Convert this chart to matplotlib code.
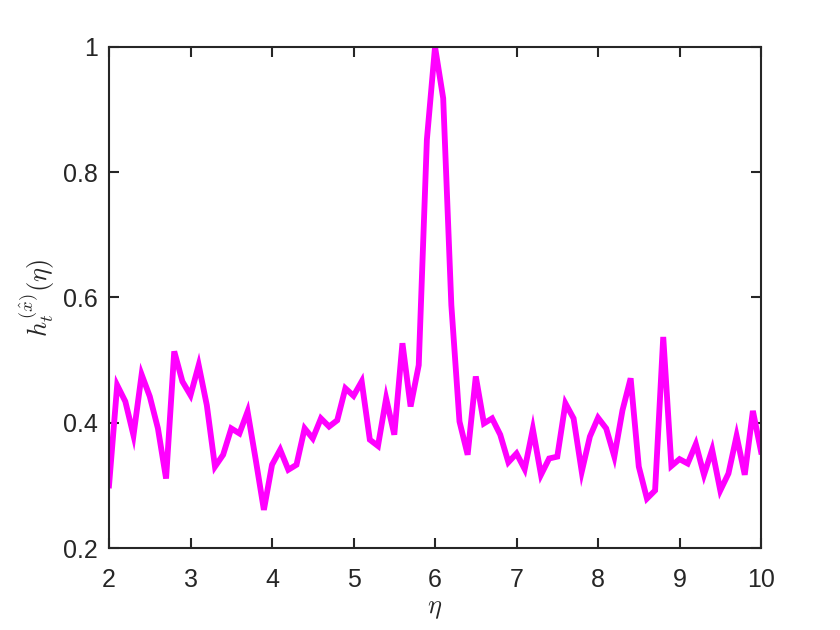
import matplotlib
matplotlib.use("Agg")
import matplotlib.pyplot as plt
import numpy as np

# eta grid, step 0.1 from 2 to 10
eta = np.round(np.arange(2.0, 10.0001, 0.1), 1)

h_vals = [
    0.300, 0.460, 0.434, 0.380, 0.477, 0.442, 0.391, 0.311, 0.514, 0.466,  # 2.0 - 2.9
    0.444, 0.492, 0.428, 0.330, 0.349, 0.391, 0.383, 0.418, 0.341, 0.261,  # 3.0 - 3.9
    0.333, 0.357, 0.325, 0.333, 0.391, 0.375, 0.407, 0.394, 0.404, 0.455,  # 4.0 - 4.9
    0.443, 0.466, 0.373, 0.363, 0.439, 0.381, 0.527, 0.426, 0.492, 0.852,  # 5.0 - 5.9
    1.000, 0.918, 0.588, 0.402, 0.349, 0.474, 0.399, 0.407, 0.381, 0.337,  # 6.0 - 6.9
    0.351, 0.326, 0.390, 0.317, 0.343, 0.346, 0.431, 0.407, 0.322, 0.378,  # 7.0 - 7.9
    0.408, 0.391, 0.346, 0.420, 0.471, 0.330, 0.279, 0.292, 0.537, 0.331,  # 8.0 - 8.9
    0.342, 0.335, 0.366, 0.317, 0.357, 0.292, 0.319, 0.379, 0.317, 0.419,  # 9.0 - 9.9
    0.354,                                                                 # 10.0
]

x_ticks = [2, 3, 4, 5, 6, 7, 8, 9, 10]
y_ticks = [0.2, 0.4, 0.6, 0.8, 1.0]
y_tick_labels = ["0.2", "0.4", "0.6", "0.8", "1"]

plt.rcParams['font.family'] = ['Liberation Sans', 'DejaVu Sans']
plt.rcParams['mathtext.fontset'] = 'cm'

fig = plt.figure(figsize=(8.4, 6.3), dpi=100)
ax = fig.add_axes([0.1298, 0.130, 0.7762, 0.7956])

ax.plot(eta, h_vals, color='#ff00ff', linewidth=4.2, solid_joinstyle='miter')

ax.set_xlim(2, 10)
ax.set_ylim(0.2, 1)
ax.set_xticks(x_ticks)
ax.set_xticklabels([str(t) for t in x_ticks])
ax.set_yticks(y_ticks)
ax.set_yticklabels(y_tick_labels)

dark = '#262626'
for s in ax.spines.values():
    s.set_color(dark)
    s.set_linewidth(1.5)
ax.tick_params(direction='in', length=7, width=1.5, colors=dark,
               labelsize=18, top=True, right=True)
ax.tick_params(axis='x', pad=14)
ax.tick_params(axis='y', pad=8)

ax.set_xlabel(r'$\eta$', fontsize=19, color=dark, labelpad=4)
ax.set_ylabel(r'$h_t^{(\hat{x})}(\eta)$', fontsize=19, color=dark, labelpad=4)

fig.savefig('out.png', dpi=100)
